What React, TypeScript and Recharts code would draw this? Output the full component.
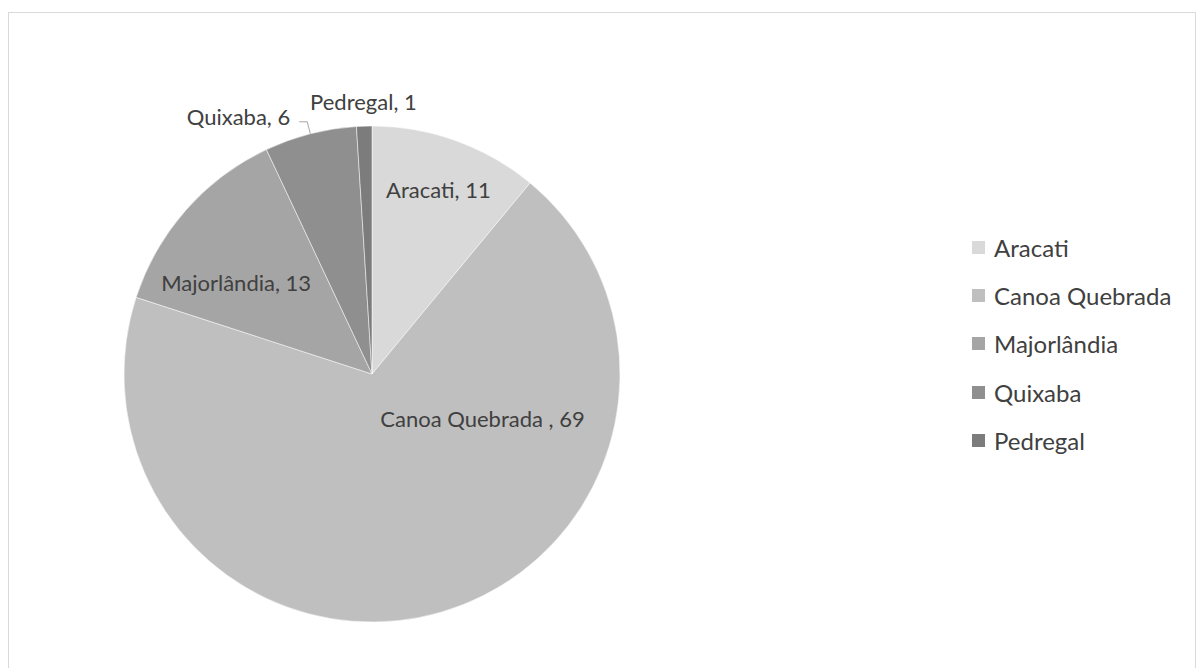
import { PieChart, Pie, Cell, Legend } from "recharts";

const LOCALITIES = ["Aracati", "Canoa Quebrada", "Majorlândia", "Quixaba", "Pedregal"];
const COUNTS = [11, 69, 13, 6, 1];
// the data label text keeps the original's stray space before the comma
const LABEL_NAMES = ["Aracati", "Canoa Quebrada ", "Majorlândia", "Quixaba", "Pedregal"];

const COLORS = ["#d9d9d9", "#bfbfbf", "#a5a5a5", "#8f8f8f", "#7c7c7c"];
const FONT = "Lato, 'Open Sans', sans-serif";
const TEXT = "#404040";
const RAD = Math.PI / 180;

const data = LOCALITIES.map((name, i) => ({ name, value: COUNTS[i] }));

// where each data label sits: r = fraction of radius, turn = degrees shifted off the mid angle
const LABEL_LAYOUT = [
  { r: 0.79, turn: 0, outside: false },
  { r: 0.48, turn: 52, outside: false },
  { r: 0.66, turn: 7.5, outside: false },
  { r: 1.05, turn: 0, outside: true },
  { r: 1.1, turn: 0, outside: false },
];

function renderLabel(props: any) {
  const { cx, cy, midAngle, outerRadius, index, value } = props;
  const lay = LABEL_LAYOUT[index];
  const text = `${LABEL_NAMES[index]}, ${value}`;
  const a = (midAngle + lay.turn) * RAD;

  if (lay.outside) {
    const ex = cx + outerRadius * Math.cos(-a);
    const ey = cy + outerRadius * Math.sin(-a);
    const bx = cx + outerRadius * lay.r * Math.cos(-a);
    const by = cy + outerRadius * lay.r * Math.sin(-a);
    const hx = bx - 8;
    return (
      <g>
        <polyline
          points={`${ex},${ey} ${bx},${by} ${hx},${by}`}
          fill="none"
          stroke="#a6a6a6"
          strokeWidth={1}
        />
        <text
          x={hx - 9}
          y={by - 5}
          textAnchor="end"
          dominantBaseline="central"
          fill={TEXT}
          fontSize={22}
          fontFamily={FONT}
        >
          {text}
        </text>
      </g>
    );
  }

  const x = cx + outerRadius * lay.r * Math.cos(-a);
  const y = cy + outerRadius * lay.r * Math.sin(-a);
  return (
    <text
      x={x}
      y={y}
      textAnchor="middle"
      dominantBaseline="central"
      fill={TEXT}
      fontSize={22}
      fontFamily={FONT}
    >
      {text}
    </text>
  );
}

function renderLegend(props: any) {
  const items = [...(props.payload || [])].sort(
    (p: any, q: any) => LOCALITIES.indexOf(p.value) - LOCALITIES.indexOf(q.value)
  );
  return (
    <div style={{ fontFamily: FONT, fontSize: 24, color: TEXT }}>
      {items.map((entry: any, i: number) => (
        <div
          key={`leg-${i}`}
          style={{ display: "flex", alignItems: "center", height: 48.3 }}
        >
          <span
            style={{
              width: 13,
              height: 13,
              background: entry.color,
              marginRight: 9,
              display: "inline-block",
            }}
          />
          <span>{entry.value}</span>
        </div>
      ))}
    </div>
  );
}

export default function App() {
  return (
    <div
      style={{
        position: "absolute",
        left: 8,
        top: 12,
        width: 1188,
        height: 680,
        border: "1px solid #d9d9d9",
        boxSizing: "border-box",
        background: "#fff",
      }}
    >
      <PieChart width={1186} height={678}>
        <Pie
          data={data}
          dataKey="value"
          nameKey="name"
          cx={358}
          cy={356}
          outerRadius={248}
          startAngle={90}
          endAngle={-270}
          stroke="#ffffff"
          strokeWidth={0.5}
          label={renderLabel}
          labelLine={false}
          isAnimationActive={false}
        >
          {data.map((_d, i) => (
            <Cell key={`cell-${i}`} fill={COLORS[i]} />
          ))}
        </Pie>
        <Legend
          layout="vertical"
          content={renderLegend}
          wrapperStyle={{ left: 963, top: 210, width: 220 }}
        />
      </PieChart>
    </div>
  );
}
